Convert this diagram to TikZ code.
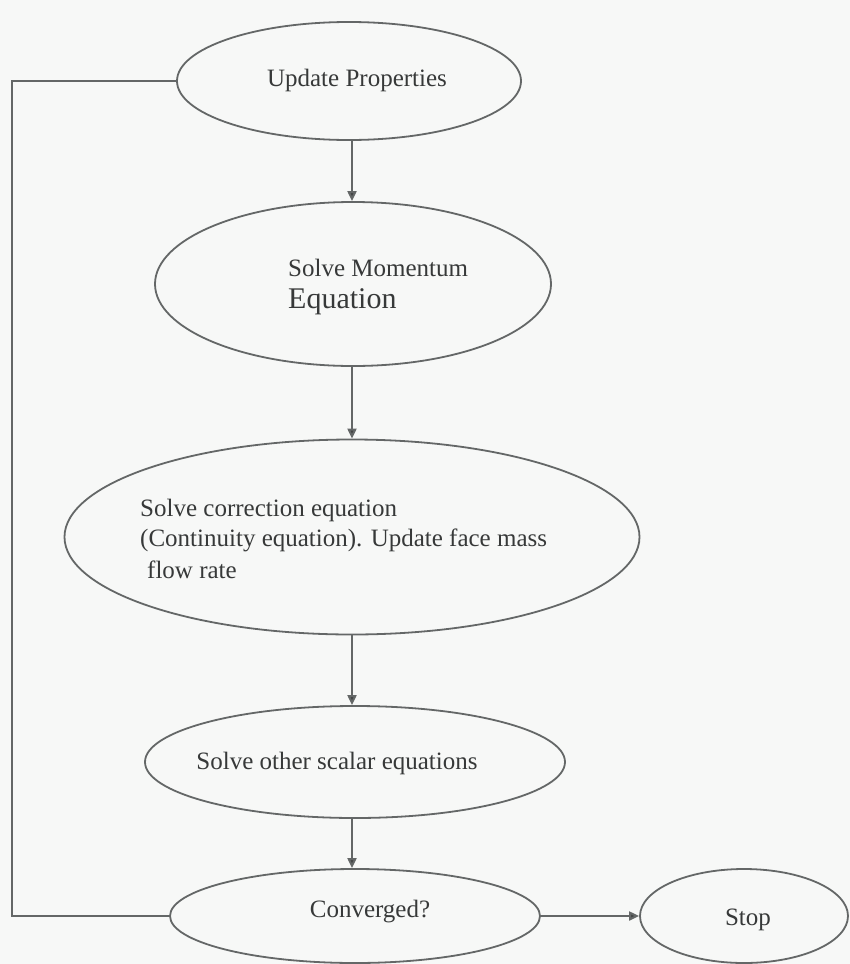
\documentclass[tikz,border=0pt]{standalone}
\usepackage{fontspec}
\setmainfont{Liberation Serif}
\usetikzlibrary{shapes.geometric,arrows.meta}
\definecolor{paper}{RGB}{247,248,247}
\definecolor{ink}{RGB}{55,57,57}
\definecolor{wire}{RGB}{100,103,103}
\definecolor{tip}{RGB}{65,67,67}
\begin{document}
\begin{tikzpicture}[x=1pt,y=-1pt,
  blob/.style={ellipse,draw=wire,line width=1.8pt,inner sep=0pt},
  lbl/.style={text=ink,font=\fontsize{25}{30}\selectfont,inner sep=0pt},
  flow/.style={draw=wire,line width=2pt,-{Triangle[length=10pt,width=9pt,fill=tip]}},
  wireline/.style={draw=wire,line width=2pt}]
\fill[paper] (0,0) rectangle (850,964);
\useasboundingbox (0,0) rectangle (850,964);

% process steps
\node[blob,minimum width=344pt,minimum height=118pt] (upd) at (349,81) {};
\node[blob,minimum width=396pt,minimum height=164pt] (mom) at (353,284) {};
\node[blob,minimum width=575pt,minimum height=195pt] (cor) at (352,537) {};
\node[blob,minimum width=420pt,minimum height=112pt] (sca) at (355,762) {};
\node[blob,minimum width=370pt,minimum height=94pt] (con) at (355,916) {};
\node[blob,minimum width=208pt,minimum height=94pt] (stp) at (744,916) {};

% labels
\node[lbl] (tupd) at (357,80) {Update Properties};
\node[lbl,anchor=west] (tmom1) at (288,268) {Solve Momentum};
\node[lbl,anchor=west,font=\fontsize{30}{36}\selectfont] (tmom2) at (288,302) {Equation};
\node[lbl,anchor=west] (tcor1) at (140,510) {Solve correction equation};
\node[lbl,anchor=west] (tcor2) at (140,540) {(Continuity equation). Update face mass};
\node[lbl,anchor=west] (tcor3) at (147,570) {flow rate};
\node[lbl] (tsca) at (337,763) {Solve other scalar equations};
\node[lbl] (tcon) at (370,912) {Converged?};
\node[lbl] (tstp) at (748,920) {Stop};

% main chain runs down a common vertical axis
\coordinate (axis) at (352,0);
\draw[flow] (upd.south -| axis) -- (mom.north -| axis);
\draw[flow] (mom.south -| axis) -- (cor.north -| axis);
\draw[flow] (cor.south -| axis) -- (sca.north -| axis);
\draw[flow] (sca.south -| axis) -- (con.north -| axis);
\draw[flow] (con.east) -- (stp.west);

% return loop on the left
\coordinate (rail) at (12,0);
\draw[wireline] (con.west) -- (con.west -| rail) -- (upd.west -| rail) -- (upd.west);
\end{tikzpicture}
\end{document}
